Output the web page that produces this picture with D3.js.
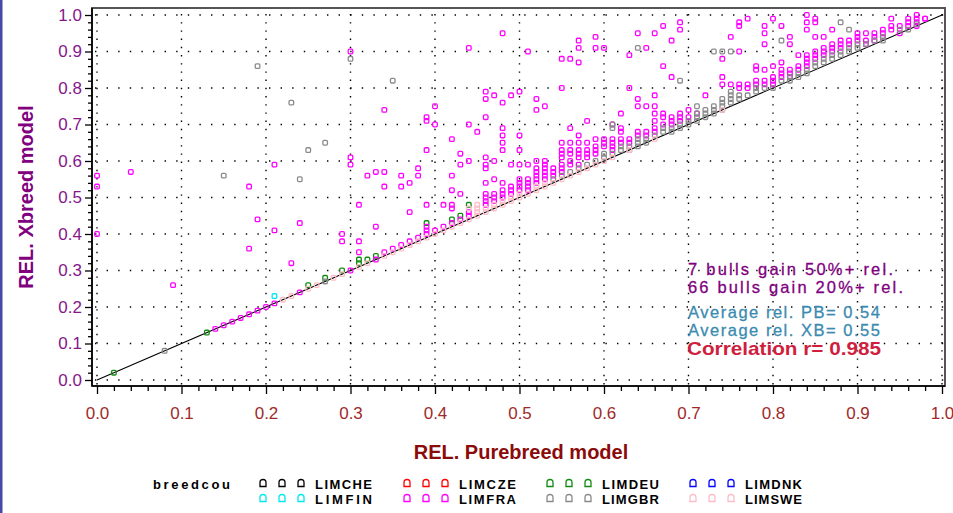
<!DOCTYPE html>
<html><head><meta charset="utf-8">
<script src="https://cdn.jsdelivr.net/npm/d3@7/dist/d3.min.js"></script>
<style>
body{margin:0;background:#fff;}
svg{display:block;font-family:"Liberation Sans",Arial,Helvetica,sans-serif;}
</style>
</head><body>
<svg id="c" width="953" height="513"></svg>
<script>
// ---------------- DATA ----------------
const breeds = ["LIMCHE","LIMCZE","LIMDEU","LIMDNK","LIMFIN","LIMFRA","LIMGBR","LIMSWE"];
const majorTicks = [0.0,0.1,0.2,0.3,0.4,0.5,0.6,0.7,0.8,0.9,1.0];
const tickLabels = ["0.0","0.1","0.2","0.3","0.4","0.5","0.6","0.7","0.8","0.9","1.0"];

const limcheXY = [];
const limczeXY = [];
const limdnkXY = [];
const limfinXY = [[0.21,0.23]];
const limdeuXY = [[0.02,0.02],[0.13,0.13],[0.25,0.26],[0.27,0.28],[0.29,0.30],[0.31,0.32],[0.31,0.33],
  [0.32,0.33],[0.33,0.34],[0.39,0.43],[0.42,0.44],[0.43,0.45],[0.44,0.48]];

// LIMFRA scattered points
const limfraXY = [[0.00,0.56],[0.00,0.53],[0.00,0.40],[0.04,0.57],[0.09,0.26],[0.18,0.36],[0.19,0.44],[0.21,0.41],
  [0.24,0.43],[0.23,0.32],[0.18,0.53],[0.21,0.59],[0.30,0.90],[0.34,0.74],[0.30,0.61],[0.30,0.59],[0.32,0.56],
  [0.33,0.57],[0.34,0.57],[0.34,0.53],[0.36,0.56],[0.36,0.53],[0.37,0.54],[0.38,0.58],[0.38,0.56],[0.39,0.63],
  [0.39,0.72],[0.39,0.71],[0.40,0.75],[0.40,0.70],[0.42,0.66],[0.42,0.56],[0.42,0.52],[0.43,0.62],[0.43,0.59],
  [0.43,0.51],[0.44,0.70],[0.44,0.60],[0.44,0.91],[0.45,0.68],[0.46,0.79],[0.46,0.77],[0.46,0.72],[0.46,0.61],
  [0.46,0.59],[0.46,0.58],[0.46,0.54],[0.47,0.78],[0.47,0.60],[0.47,0.55],[0.48,0.95],[0.48,0.76],[0.48,0.69],
  [0.48,0.67],[0.48,0.65],[0.48,0.63],[0.48,0.54],[0.49,0.78],[0.49,0.59],[0.50,0.79],[0.50,0.67],[0.50,0.63],
  [0.50,0.59],[0.51,0.90],[0.51,0.59],[0.52,0.77],[0.52,0.74],[0.52,0.60],[0.53,0.75],[0.55,0.88],[0.55,0.80],
  [0.56,0.88],[0.56,0.69],[0.57,0.93],[0.57,0.91],[0.57,0.87],[0.57,0.67],[0.58,0.71],[0.59,0.94],[0.59,0.91],
  [0.60,0.91],[0.62,0.73],[0.63,0.89],[0.63,0.80],[0.64,0.95],[0.65,0.91],[0.66,0.95],[0.67,0.97],[0.67,0.86],
  [0.68,0.93],[0.68,0.83],[0.69,0.98],[0.69,0.96],[0.64,0.77],[0.64,0.75],[0.65,0.75],[0.66,0.78],[0.66,0.75],
  [0.66,0.73],[0.70,0.74],[0.72,0.78],[0.74,0.88],[0.74,0.83],[0.74,0.81],[0.75,0.94],[0.76,0.98],[0.76,0.97],
  [0.76,0.90],[0.77,0.99],[0.79,0.97],[0.79,0.95],[0.79,0.92],[0.79,0.85],[0.80,0.99],[0.80,0.86],[0.81,0.97],
  [0.81,0.87],[0.82,0.94],[0.82,0.92],[0.83,0.89],[0.84,1.00],[0.84,0.98],[0.84,0.96],[0.85,0.99],[0.85,0.98],
  [0.85,0.94],[0.86,0.94],[0.87,0.96],[0.98,0.99],[0.29,0.40],[0.29,0.38],[0.31,0.48],[0.31,0.38],[0.31,0.35],
  [0.33,0.42],[0.37,0.46],[0.39,0.48],[0.41,0.48],[0.42,0.48],[0.42,0.47]];
// LIMFRA columns along the diagonal: [x, [y values]]
const limfraCols = [[0.14,[0.14]],[0.15,[0.15]],[0.16,[0.16]],[0.17,[0.17]],[0.18,[0.18]],[0.19,[0.19]],[0.20,[0.20]],
  [0.21,[0.21]],[0.24,[0.24]],[0.30,[0.30]],[0.33,[0.33]],[0.34,[0.35]],[0.35,[0.36]],[0.36,[0.37]],[0.37,[0.38]],
  [0.38,[0.39]],[0.39,[0.40,0.41,0.42]],[0.40,[0.41]],[0.41,[0.42]],[0.42,[0.43]],[0.43,[0.44]],[0.44,[0.45,0.46]],
  [0.46,[0.48,0.49,0.50,0.51]],[0.47,[0.49,0.50,0.51]],[0.48,[0.50,0.51,0.52]],[0.49,[0.51,0.52,0.53]],
  [0.50,[0.52,0.53,0.54,0.55]],[0.51,[0.52,0.53,0.54,0.55]],[0.52,[0.54,0.55,0.56,0.57,0.58]],
  [0.53,[0.55,0.56,0.57,0.58,0.59,0.60]],[0.54,[0.56,0.57,0.58]],[0.55,[0.57,0.58,0.59,0.61,0.62,0.63,0.65]],
  [0.56,[0.59,0.60,0.62,0.63,0.65]],[0.57,[0.59,0.61,0.62,0.63,0.65]],[0.58,[0.61,0.62,0.63,0.65]],
  [0.59,[0.62,0.63,0.64,0.66]],[0.60,[0.64,0.65,0.66]],[0.61,[0.63,0.64,0.65,0.66,0.70]],[0.62,[0.65,0.66,0.68,0.69]],
  [0.63,[0.65,0.66]],[0.64,[0.67,0.68]],[0.65,[0.67,0.68]],[0.66,[0.68,0.69,0.71]],[0.67,[0.70,0.72,0.73]],
  [0.68,[0.70,0.71,0.72]],[0.69,[0.71,0.72,0.73]],[0.70,[0.72]],[0.71,[0.73]],[0.75,[0.81]],[0.76,[0.80,0.81]],
  [0.77,[0.80,0.81]],[0.78,[0.81,0.82,0.85,0.86]],[0.79,[0.81,0.82]],[0.80,[0.81,0.82,0.83]],[0.81,[0.83,0.84,0.85]],
  [0.82,[0.83,0.84,0.85]],[0.83,[0.85,0.86]],[0.84,[0.86,0.87,0.88,0.89]],[0.85,[0.88,0.89,0.90]],
  [0.86,[0.89,0.90,0.91]],[0.87,[0.90,0.91,0.92]],[0.88,[0.91,0.92,0.93]],[0.89,[0.92,0.93]],[0.90,[0.93,0.94,0.95]],
  [0.91,[0.92,0.93,0.95]],[0.92,[0.93,0.94,0.95]],[0.93,[0.94,0.95,0.96]],[0.94,[0.96,0.97,0.99]],[0.95,[0.95,0.97]],
  [0.96,[0.97,0.98,0.99]],[0.97,[0.97,0.98,0.99,1.00]],[0.98,[0.99]]];

// LIMGBR
const limgbrXY = [[0.08,0.08],[0.15,0.56],[0.19,0.86],[0.23,0.76],[0.24,0.55],[0.25,0.63],[0.27,0.65],[0.30,0.88],
  [0.35,0.82],[0.64,0.91],[0.69,0.82],[0.73,0.90],[0.74,0.90],[0.75,0.90],[0.81,0.93],[0.88,0.98],[0.89,0.96]];
const limgbrCols = [[0.27,[0.27]],[0.54,[0.55]],[0.55,[0.56]],[0.56,[0.57]],[0.57,[0.58]],[0.58,[0.59]],[0.59,[0.60]],
  [0.60,[0.61,0.62]],[0.61,[0.62,0.69,0.70]],[0.62,[0.63,0.64]],[0.63,[0.63,0.64]],[0.64,[0.64,0.65,0.66]],
  [0.65,[0.65,0.66]],[0.66,[0.67]],[0.67,[0.68,0.69]],[0.68,[0.68,0.69]],[0.69,[0.69,0.70]],[0.70,[0.70,0.71]],
  [0.71,[0.71,0.72,0.73,0.75]],[0.72,[0.72,0.73,0.74]],[0.73,[0.73,0.74,0.75]],[0.74,[0.74,0.75,0.76,0.77]],
  [0.75,[0.76,0.77,0.78,0.79]],[0.76,[0.77,0.78]],[0.77,[0.78]],[0.78,[0.79,0.80]],[0.79,[0.80]],[0.80,[0.80]],
  [0.81,[0.82]],[0.82,[0.82,0.83]],[0.83,[0.83,0.84]],[0.84,[0.84,0.85]],[0.85,[0.86,0.87]],[0.86,[0.87,0.88]],
  [0.87,[0.88,0.89]],[0.88,[0.89,0.90]],[0.89,[0.90,0.91]],[0.90,[0.91,0.92]],[0.91,[0.92]],[0.92,[0.93]],
  [0.93,[0.93,0.94]],[0.95,[0.96]],[0.96,[0.96]],[0.97,[0.975]]];

// LIMSWE
const limsweCols = [[0.22,[0.22]],[0.23,[0.23]],[0.25,[0.25]],[0.26,[0.26]],[0.28,[0.28]],[0.29,[0.29]],[0.31,[0.31]],
  [0.32,[0.32]],[0.34,[0.34]],[0.35,[0.35]],[0.36,[0.36]],[0.37,[0.37]],[0.38,[0.38]],[0.39,[0.39]],[0.40,[0.40]],
  [0.41,[0.41]],[0.42,[0.42]],[0.43,[0.43]],[0.44,[0.44,0.47]],[0.45,[0.45,0.46,0.47,0.48]],[0.46,[0.46,0.47]],
  [0.47,[0.47,0.48]],[0.48,[0.48,0.49]],[0.49,[0.49,0.50]],[0.50,[0.50,0.51]],[0.51,[0.51]],[0.52,[0.52,0.53]],
  [0.53,[0.53,0.54]],[0.54,[0.54]],[0.55,[0.55]],[0.56,[0.56]],[0.57,[0.57]],[0.58,[0.58]],[0.59,[0.59]],
  [0.60,[0.60]],[0.61,[0.61]],[0.63,[0.63]],[0.66,[0.66]],[0.74,[0.74]]];

const notes1 = ["7 bulls gain 50%+ rel.","66 bulls gain 20%+ rel."];
const notes2 = ["Average rel. PB= 0.54","Average rel. XB= 0.55"];
const corrNote = "Correlation r= 0.985";

// ---------------- DRAWING ----------------
const colorOf = {LIMCHE:"#000000",LIMCZE:"#ff0000",LIMDEU:"#108a10",LIMDNK:"#0000ff",
  LIMFIN:"#00e8f0",LIMFRA:"#ff00ff",LIMGBR:"#8a8a8a",LIMSWE:"#ffbcc6"};
const flat = cols => cols.flatMap(([xv,ys]) => ys.map(yv => [xv,yv]));
const seriesData = {
  LIMCHE: limcheXY, LIMCZE: limczeXY, LIMDEU: limdeuXY, LIMDNK: limdnkXY, LIMFIN: limfinXY,
  LIMFRA: limfraXY.concat(flat(limfraCols)), LIMGBR: limgbrXY.concat(flat(limgbrCols)), LIMSWE: flat(limsweCols)
};

const svg = d3.select("#c");
const x = d3.scaleLinear().domain([0,1]).range([97,942]);
const y = d3.scaleLinear().domain([0,1]).range([380,15]);
const F = {l:92, t:8, r:945, b:386};

svg.append("rect").attr("width",953).attr("height",513).attr("fill","#fff");
svg.append("rect").attr("x",0).attr("y",0).attr("width",2.5).attr("height",513).attr("fill","#4848a8");

// dotted grid
const g = svg.append("g");
g.selectAll(".hg").data(majorTicks).join("line")
  .attr("x1",F.l+3).attr("x2",F.r).attr("y1",d=>y(d)).attr("y2",d=>y(d))
  .attr("stroke","#000").attr("stroke-width",1.4).attr("stroke-dasharray","1.4,10.2");
g.selectAll(".vg").data(majorTicks).join("line")
  .attr("y1",F.t+6).attr("y2",F.b).attr("x1",d=>x(d)).attr("x2",d=>x(d))
  .attr("stroke","#000").attr("stroke-width",1.4).attr("stroke-dasharray","1.4,6.8");

// frame
svg.append("rect").attr("x",F.l).attr("y",F.t).attr("width",F.r-F.l).attr("height",F.b-F.t)
  .attr("fill","none").attr("stroke","#555").attr("stroke-width",2);
svg.append("line").attr("x1",F.l).attr("x2",F.l).attr("y1",F.t).attr("y2",F.b).attr("stroke","#000").attr("stroke-width",1.6);
svg.append("line").attr("x1",F.l).attr("x2",F.r).attr("y1",F.b).attr("y2",F.b).attr("stroke","#000").attr("stroke-width",1.6);

// axes
const minor = d3.range(0,101,2).map(v=>v/100).filter(v=>Math.round(v*100)%10!==0);
const yAx = svg.append("g").attr("transform",`translate(${F.l},0)`)
  .call(d3.axisLeft(y).tickValues(majorTicks).tickFormat((d,i)=>tickLabels[i]).tickSize(7).tickPadding(3));
svg.append("g").attr("transform",`translate(${F.l},0)`)
  .call(d3.axisLeft(y).tickValues(minor).tickFormat("").tickSize(4));
const xAx = svg.append("g").attr("transform",`translate(0,${F.b})`)
  .call(d3.axisBottom(x).tickValues(majorTicks).tickFormat((d,i)=>tickLabels[i]).tickSize(8).tickPadding(13));
svg.append("g").attr("transform",`translate(0,${F.b})`)
  .call(d3.axisBottom(x).tickValues(minor).tickFormat("").tickSize(5));
svg.selectAll(".domain").remove();
svg.selectAll(".tick line").attr("stroke","#000").attr("stroke-width",1.3);
yAx.selectAll("text").attr("font-size",17).attr("fill","#86168a").attr("font-family","Liberation Sans, Arial, sans-serif");
xAx.selectAll("text").attr("font-size",17).attr("fill","#a02a2a").attr("font-family","Liberation Sans, Arial, sans-serif");

// axis titles
svg.append("text").attr("transform","translate(33,197) rotate(-90)").attr("text-anchor","middle")
  .attr("font-size",20).attr("font-weight","bold").attr("fill","#800080").text("REL. Xbreed model");
svg.append("text").attr("x",521).attr("y",459).attr("text-anchor","middle")
  .attr("font-size",20).attr("font-weight","bold").attr("fill","#8b0a0a").text("REL. Purebreed model");

// diagonal y = x
svg.append("line").attr("x1",x(0)).attr("y1",y(0)).attr("x2",x(1)).attr("y2",y(1))
  .attr("stroke","#000").attr("stroke-width",1.1);

// points
const pts = svg.append("g");
breeds.forEach(b => {
  pts.append("g").selectAll("rect").data(seriesData[b]).join("rect")
    .attr("x",d=>x(d[0])-2.3).attr("y",d=>y(d[1])-2.3).attr("width",4.6).attr("height",4.6).attr("rx",1.2)
    .attr("fill","none").attr("stroke",colorOf[b]).attr("stroke-width",1.3);
});

// annotations
const ann = svg.append("g").attr("font-family","Liberation Sans, Arial, sans-serif");
[[notes1[0],275,205],[notes1[1],293,215]].forEach(([t,yy,w])=>{
  ann.append("text").attr("x",688).attr("y",yy).attr("font-size",16.5).attr("fill","#800080")
    .attr("stroke","#800080").attr("stroke-width",0.3)
    .attr("textLength",w).attr("lengthAdjust","spacing").text(t);
});
[[notes2[0],318,192],[notes2[1],336,192]].forEach(([t,yy,w])=>{
  ann.append("text").attr("x",688).attr("y",yy).attr("font-size",16.5).attr("fill","#3b8bb0")
    .attr("stroke","#3b8bb0").attr("stroke-width",0.3)
    .attr("textLength",w).attr("lengthAdjust","spacing").text(t);
});
ann.append("text").attr("x",687).attr("y",355).attr("font-size",19).attr("font-weight","bold").attr("fill","#d01e3e")
  .attr("textLength",194).attr("lengthAdjust","spacingAndGlyphs").text(corrNote);

// legend
const leg = svg.append("g");
leg.append("text").attr("x",153).attr("y",489).attr("font-size",13).attr("font-weight","bold").attr("fill","#000")
  .attr("textLength",77).attr("lengthAdjust","spacing").text("breedcou");
const colX = [263,407,550,693];
const rowY = [483,498];
const sym = "M-3,3.5L-3,-0.5Q-3,-3.5 0,-3.5Q3,-3.5 3,-0.5L3,3.5Z";
breeds.forEach((b,i)=>{
  const c = i%4, r = Math.floor(i/4);
  const gx = colX[c], gy = rowY[r];
  [0,19,38].forEach(dx=>{
    leg.append("path").attr("d",sym).attr("transform",`translate(${gx+dx},${gy})`)
      .attr("fill","none").attr("stroke",colorOf[b]).attr("stroke-width",1.3);
  });
  leg.append("text").attr("x",gx+52).attr("y",gy+6).attr("font-size",13).attr("font-weight","bold")
    .attr("fill","#000").attr("textLength",57).attr("lengthAdjust","spacing").text(b);
});
</script>
</body></html>
